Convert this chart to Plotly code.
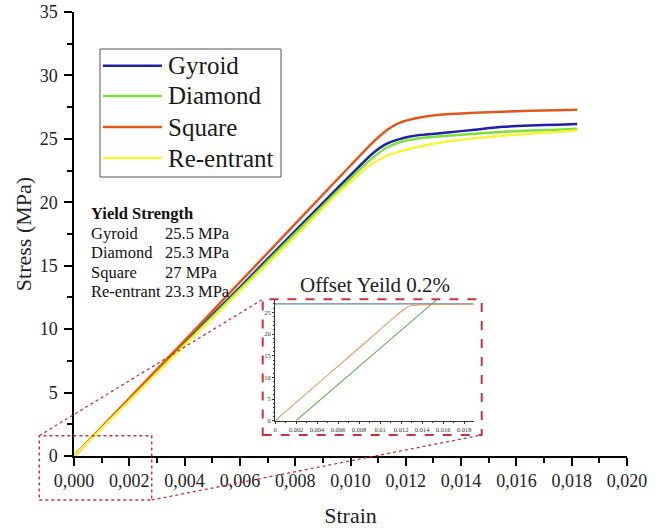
import plotly.graph_objects as go

# ---------------- data ----------------
series_names = ["Gyroid", "Diamond", "Square", "Re-entrant"]
series_colors = ["#1f1fa8", "#7ee03c", "#e2571e", "#f6f43c"]

gyroid_strain = [0, 0.002, 0.004, 0.006, 0.008, 0.0095, 0.0103, 0.0108, 0.0113, 0.0118, 0.0125, 0.0135, 0.0145, 0.0155, 0.0165, 0.0175, 0.0182]
gyroid_stress = [0, 4.45, 8.9, 13.3, 17.75, 21.05, 22.8, 23.85, 24.6, 25.0, 25.3, 25.5, 25.72, 25.95, 26.05, 26.12, 26.18]

diamond_strain = [0, 0.002, 0.004, 0.006, 0.008, 0.0095, 0.0103, 0.0108, 0.0113, 0.0118, 0.0125, 0.0135, 0.0145, 0.0155, 0.0165, 0.0175, 0.0182]
diamond_stress = [0, 4.4, 8.8, 13.15, 17.55, 20.8, 22.5, 23.5, 24.3, 24.75, 25.05, 25.25, 25.4, 25.55, 25.65, 25.72, 25.8]

square_strain = [0, 0.002, 0.004, 0.006, 0.008, 0.010, 0.0108, 0.0113, 0.0117, 0.0122, 0.013, 0.014, 0.015, 0.016, 0.017, 0.0182]
square_stress = [0, 4.55, 9.1, 13.7, 18.3, 22.9, 24.7, 25.65, 26.2, 26.55, 26.85, 27.0, 27.1, 27.18, 27.24, 27.3]

reentrant_strain = [0, 0.002, 0.004, 0.006, 0.008, 0.0095, 0.0101, 0.0106, 0.0111, 0.0117, 0.0125, 0.0135, 0.0145, 0.0155, 0.0165, 0.0175, 0.0182]
reentrant_stress = [0, 4.35, 8.7, 13.0, 17.3, 20.6, 21.8, 22.75, 23.45, 23.95, 24.4, 24.8, 25.05, 25.25, 25.4, 25.55, 25.66]

x_tickvals = [0, 0.002, 0.004, 0.006, 0.008, 0.010, 0.012, 0.014, 0.016, 0.018, 0.020]
y_tickvals = [0, 5, 10, 15, 20, 25, 30, 35]

# Yield strength table
yield_title = "Yield Strength"
yield_names = ["Gyroid", "Diamond", "Square", "Re-entrant"]
yield_values = ["25.5 MPa", "25.3 MPa", "27 MPa", "23.3 MPa"]

# Inset (offset yield 0.2 %) data
inset_curve_strain = [0, 0.004, 0.008, 0.0115, 0.0121, 0.0126, 0.013, 0.014, 0.0189]
inset_curve_stress = [0, 8.4, 16.8, 24.2, 25.4, 26.2, 26.6, 26.8, 26.9]
inset_yield_strain = [0, 0.0189]
inset_yield_stress = [27, 27]
inset_offset_strain = [0.002, 0.0155]
inset_offset_stress = [0, 28.2]
inset_x_tickvals = [0, 0.002, 0.004, 0.006, 0.008, 0.010, 0.012, 0.014, 0.016, 0.018]
inset_x_ticktext = ["0", "0.002", "0.004", "0.006", "0.008", "0.01", "0.012", "0.014", "0.016", "0.018"]
inset_y_tickvals = [0, 5, 10, 15, 20, 25]

# ---------------- layout helpers ----------------
W, H = 664, 528
ML, MR, MT, MB = 74, 37, 12, 72
PW, PH = W - ML - MR, H - MT - MB


def px(xp, yp):
    """pixel position -> paper coordinates"""
    return (xp - ML) / PW, (H - MB - yp) / PH


FONT = "Liberation Serif"
RED = "#c8323c"

fig = go.Figure()

xs = [gyroid_strain, diamond_strain, square_strain, reentrant_strain]
ys = [gyroid_stress, diamond_stress, square_stress, reentrant_stress]
for name, c, x, y in zip(series_names, series_colors, xs, ys):
    fig.add_trace(go.Scatter(
        x=x, y=y, name=name, mode="lines",
        line=dict(color=c, width=2.5, shape="spline", smoothing=0.5),
        showlegend=False,
    ))

# inset traces
fig.add_trace(go.Scatter(x=inset_yield_strain, y=inset_yield_stress, mode="lines",
                         line=dict(color="#5a87bd", width=1.3), xaxis="x2", yaxis="y2",
                         showlegend=False))
fig.add_trace(go.Scatter(x=inset_curve_strain, y=inset_curve_stress, mode="lines",
                         line=dict(color="#e39a62", width=1.1, shape="spline", smoothing=0.5),
                         xaxis="x2", yaxis="y2", showlegend=False))
fig.add_trace(go.Scatter(x=inset_offset_strain, y=inset_offset_stress, mode="lines",
                         line=dict(color="#6aaa5c", width=1.1), xaxis="x2", yaxis="y2",
                         showlegend=False))

ix0, iy0 = px(275, 420.7)
ix1, iy1 = px(473.6, 298.6)

axis_common = dict(showline=True, linecolor="black", linewidth=1.5, ticks="outside",
                   tickcolor="black", tickwidth=1.5, ticklen=8, showgrid=False, zeroline=False,
                   automargin=False,
                   tickfont=dict(family=FONT, size=18, color="#222"))

fig.update_layout(
    width=W, height=H,
    margin=dict(l=ML, r=MR, t=MT, b=MB, autoexpand=False),
    paper_bgcolor="white", plot_bgcolor="white",
    separators=",.",
    font=dict(family=FONT, color="#222"),
    xaxis=dict(range=[0, 0.020], tickvals=x_tickvals, tickformat=".3f",
               title=dict(text="Strain", font=dict(family=FONT, size=22), standoff=18),
               minor=dict(ticks="outside", ticklen=5, tickwidth=1.5, tickcolor="black", dtick=0.001),
               **axis_common),
    yaxis=dict(range=[0, 35], tickvals=y_tickvals, ticklabelstandoff=3,
               title=dict(text="Stress (MPa)", font=dict(family=FONT, size=22), standoff=2),
               minor=dict(ticks="outside", ticklen=5, tickwidth=1.5, tickcolor="black", dtick=2.5),
               **axis_common),
    xaxis2=dict(domain=[ix0, ix1], anchor="y2", range=[0, 0.0189],
                tickvals=inset_x_tickvals, ticktext=inset_x_ticktext, automargin=False,
                showline=True, linecolor="#333", linewidth=1, ticks="outside", ticklen=2,
                tickwidth=0.8, tickcolor="#333", showgrid=False, zeroline=False,
                minor=dict(ticks="outside", ticklen=1.5, tickwidth=0.6, tickcolor="#333", dtick=0.001),
                tickfont=dict(family=FONT, size=6.5, color="#333")),
    yaxis2=dict(domain=[iy0, iy1], anchor="x2", range=[0, 28.2], automargin=False,
                tickvals=inset_y_tickvals,
                showline=True, linecolor="#333", linewidth=1, ticks="outside", ticklen=2,
                tickwidth=0.8, tickcolor="#333", showgrid=False, zeroline=False,
                minor=dict(ticks="outside", ticklen=1.5, tickwidth=0.6, tickcolor="#333", dtick=1),
                tickfont=dict(family=FONT, size=6.5, color="#333")),
    showlegend=False,
)

# Manual legend (box, line samples, labels)
lx0, ly0 = px(100, 177)
lx1, ly1 = px(281, 49)
fig.add_shape(type="rect", xref="paper", yref="paper", x0=lx0, y0=ly0, x1=lx1, y1=ly1,
              line=dict(color="#555", width=1), fillcolor="white", layer="above")
legend_row_y = [65.7, 96, 127, 158]
for name, c, ry in zip(series_names, series_colors, legend_row_y):
    a0, ay = px(103, ry)
    a1, _ = px(162, ry)
    fig.add_shape(type="line", xref="paper", yref="paper", x0=a0, y0=ay, x1=a1, y1=ay,
                  line=dict(color=c, width=2.5), layer="above")
    t0, _ = px(166, ry)
    fig.add_annotation(x=t0, y=ay, xref="paper", yref="paper", text=name, showarrow=False,
                       xanchor="left", yanchor="middle",
                       font=dict(family=FONT, size=25, color="#1a1a1a"))

# Yield strength table annotations
tx, ty = px(89, 213)
fig.add_annotation(x=tx, y=ty, xref="paper", yref="paper", text="<b>" + yield_title + "</b>",
                   showarrow=False, xanchor="left", yanchor="middle",
                   font=dict(family=FONT, size=16.5, color="#111"))
row_y = [233, 252.5, 272, 291]
for name, val, ry in zip(yield_names, yield_values, row_y):
    ax, ay = px(89, ry)
    bx, _ = px(163, ry)
    fig.add_annotation(x=ax, y=ay, xref="paper", yref="paper", text=name, showarrow=False,
                       xanchor="left", yanchor="middle", font=dict(family=FONT, size=16.5, color="#111"))
    fig.add_annotation(x=bx, y=ay, xref="paper", yref="paper", text=val, showarrow=False,
                       xanchor="left", yanchor="middle", font=dict(family=FONT, size=16.5, color="#111"))

# Inset title
ox, oy = px(375, 285)
fig.add_annotation(x=ox, y=oy, xref="paper", yref="paper", text="Offset Yeild 0.2%",
                   showarrow=False, xanchor="center", yanchor="middle",
                   font=dict(family=FONT, size=21, color="#222"))

# Zoom boxes and connector lines
sx0, sy0 = px(39.3, 500)
sx1, sy1 = px(151.7, 435.7)
bx0, by0 = px(262.7, 435)
bx1, by1 = px(481.7, 299.3)
fig.add_shape(type="rect", xref="paper", yref="paper", x0=sx0, y0=sy0, x1=sx1, y1=sy1,
              line=dict(color=RED, width=1.5, dash="dot"))
fig.add_shape(type="rect", xref="paper", yref="paper", x0=bx0, y0=by0, x1=bx1, y1=by1,
              line=dict(color=RED, width=2, dash="dash"))
fig.add_shape(type="line", xref="paper", yref="paper", x0=sx0, y0=sy1, x1=bx0, y1=by1,
              line=dict(color=RED, width=1.3, dash="dot"))
fig.add_shape(type="line", xref="paper", yref="paper", x0=sx1, y0=sy0, x1=bx1, y1=by0,
              line=dict(color=RED, width=1.3, dash="dot"))

fig.write_html("out.html", config={"displayModeBar": False},
               post_script="document.body.style.margin='0';")
